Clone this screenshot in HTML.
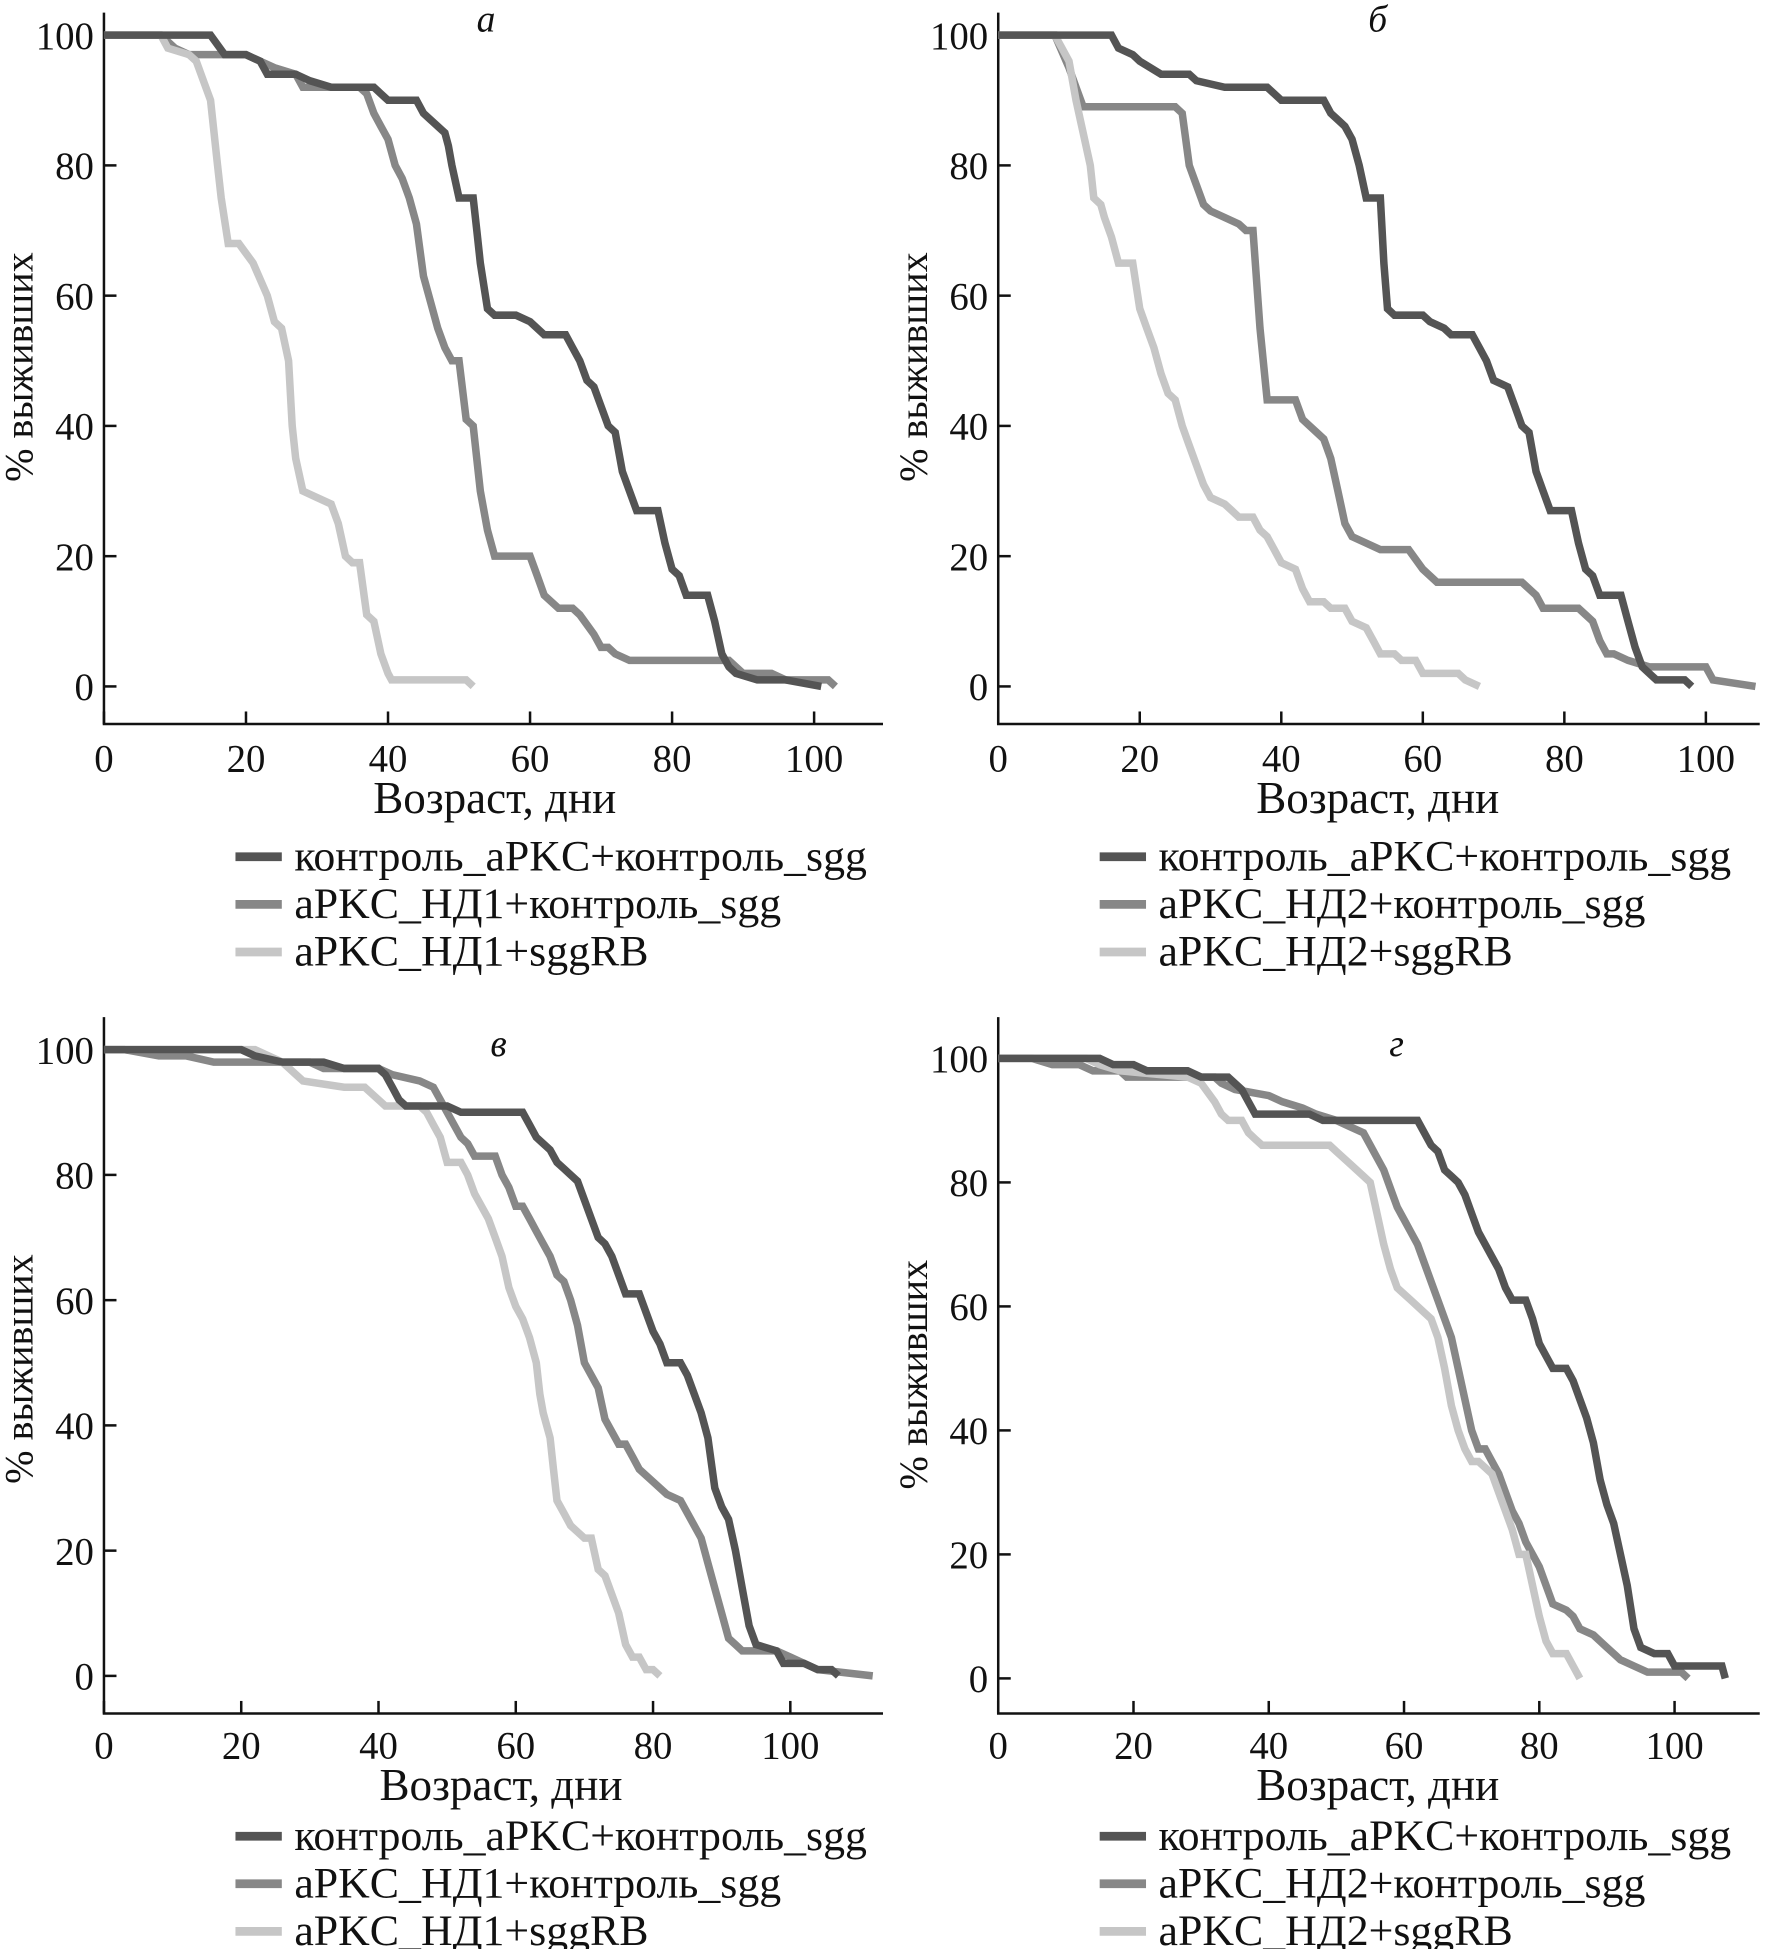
<!DOCTYPE html>
<html><head><meta charset="utf-8"><style>
html,body{margin:0;padding:0;background:#fff}
svg text{font-family:"Liberation Serif",serif;fill:#111}
</style></head><body>
<svg id="s" width="1766" height="1949" viewBox="0 0 1410 1556" xmlns="http://www.w3.org/2000/svg"></svg>
<script>
const D='#545454',M='#878787',L='#c6c6c6';
const P=[
{x0:83,sx:5.67,y100:28,sy:5.2,top:10,bot:578,right:705,xt:[0,20,40,60,80,100],lab:'а',lx:388,ly:25,ttl:395,leg:[188,684],xlY:616,
 c:[[M,[[0,100],[8,100],[10,98],[12,97],[20,97],[22,96],[24,95],[27,94],[28,92],[36,92],[37,91],[38,88],[39,86],[40,84],[41,80],[42,78],[43,75],[44,71],[45,63],[46,59],[47,55],[48,52],[49,50],[50,50],[51,41],[52,40],[53,30],[54,24],[55,20],[60,20],[61,17],[62,14],[63,13],[64,12],[66,12],[67,11],[69,8],[70,6],[71,6],[72,5],[74,4],[88,4],[89,3],[90,2],[94,2],[96,1],[102,1],[103,0]]],
 [L,[[0,100],[8,100],[9,98],[12,97],[13,96],[14,93],[15,90],[16,80],[16.5,75],[17.5,68],[19,68],[21,65],[23,60],[24,56],[25,55],[26,50],[26.5,40],[27,35],[28,30],[30,29],[32,28],[33,25],[34,20],[35,19],[36,19],[37,11],[38,10],[39,5],[40,2],[40.5,1],[51,1],[52,0]]],
 [D,[[0,100],[15,100],[17,97],[20,97],[22,96],[23,94],[27,94],[29,93],[32,92],[38,92],[39,91],[40,90],[44,90],[45,88],[46,87],[47,86],[48,85],[48.5,83],[49,80],[50,75],[52,75],[52.5,70],[53,65],[54,58],[55,57],[58,57],[60,56],[62,54],[65,54],[66,52],[67,50],[68,47],[69,46],[70,43],[71,40],[72,39],[73,33],[75,27],[78,27],[79,22],[80,18],[81,17],[82,14],[85,14],[86,10],[87,5],[88,3],[89,2],[92,1],[96,1],[101,0]]]],
 names:['контроль_aPKC+контроль_sgg','aPKC_НД1+контроль_sgg','aPKC_НД1+sggRB']},
{x0:797,sx:5.65,y100:28,sy:5.2,top:10,bot:578,right:1405,xt:[0,20,40,60,80,100],lab:'б',lx:1100,ly:25,ttl:1100,leg:[878,684],xlY:616,
 c:[[M,[[0,100],[8,100],[10,95],[11,92],[12,89],[25,89],[26,88],[27,80],[28,77],[29,74],[30,73],[32,72],[34,71],[35,70],[36,70],[37,55],[38,44],[42,44],[43,41],[44,40],[45,39],[46,38],[47,35],[48,30],[49,25],[50,23],[52,22],[54,21],[58,21],[60,18],[62,16],[74,16],[76,14],[77,12],[82,12],[83,11],[84,10],[85,7],[86,5],[87,5],[89,4],[92,3],[100,3],[101,1],[107,0]]],
 [L,[[0,100],[8,100],[9,98],[10,96],[11,90],[12,85],[13,80],[13.5,75],[14.5,74],[15,72],[16,69],[17,65],[19,65],[20,58],[21,55],[22,52],[23,48],[24,45],[25,44],[26,40],[27,37],[28,34],[29,31],[30,29],[32,28],[33,27],[34,26],[36,26],[37,24],[38,23],[39,21],[40,19],[42,18],[43,15],[44,13],[46,13],[47,12],[49,12],[50,10],[52,9],[53,7],[54,5],[56,5],[57,4],[59,4],[60,2],[65,2],[66,1],[68,0]]],
 [D,[[0,100],[16,100],[17,98],[19,97],[20,96],[23,94],[27,94],[28,93],[32,92],[38,92],[39,91],[40,90],[46,90],[47,88],[48,87],[49,86],[50,84],[51,80],[52,75],[54,75],[54.5,65],[55,58],[56,57],[60,57],[61,56],[63,55],[64,54],[67,54],[68,52],[69,50],[70,47],[72,46],[73,43],[74,40],[75,39],[76,33],[77,30],[78,27],[81,27],[82,22],[83,18],[84,17],[85,14],[88,14],[89,10],[90,6],[91,3],[92,2],[93,1],[97,1],[98,0]]]],
 names:['контроль_aPKC+контроль_sgg','aPKC_НД2+контроль_sgg','aPKC_НД2+sggRB']},
{x0:83,sx:5.48,y100:838,sy:5.0,top:812,bot:1368,right:705,xt:[0,20,40,60,80,100],lab:'в',lx:398,ly:843,ttl:400,leg:[188,1466],xlY:1404,
 c:[[M,[[0,100],[3,100],[8,99],[12,99],[16,98],[30,98],[32,97],[40,97],[42,96],[46,95],[48,94],[49,92],[50,90],[51,88],[52,86],[53,85],[54,83],[57,83],[58,80],[59,78],[60,75],[61,75],[62,73],[63,71],[64,69],[65,67],[66,64],[67,63],[68,60],[69,56],[70,50],[71,48],[72,46],[73,41],[74,39],[75,37],[76,37],[77,35],[78,33],[80,31],[82,29],[84,28],[85,26],[86,24],[87,22],[88,18],[89,14],[90,10],[91,6],[92,5],[93,4],[98,4],[100,3],[102,2],[104,1],[112,0]]],
 [L,[[0,100],[22,100],[24,99],[26,98],[28,96],[29,95],[35,94],[38,94],[39,93],[40,92],[41,91],[46,91],[47,90],[48,88],[49,86],[50,82],[52,82],[53,80],[54,77],[55,75],[56,73],[57,70],[58,67],[59,62],[60,59],[61,57],[62,54],[63,50],[63.5,45],[64,42],[65,38],[65.5,33],[66,28],[67,26],[68,24],[69,23],[70,22],[71,22],[72,17],[73,16],[74,13],[75,10],[76,5],[77,3],[78,3],[79,1],[80,1],[81,0]]],
 [D,[[0,100],[20,100],[22,99],[26,98],[32,98],[35,97],[40,97],[41,96],[42,94],[43,92],[44,91],[50,91],[52,90],[61,90],[62,88],[63,86],[65,84],[66,82],[67,81],[68,80],[69,79],[70,76],[71,73],[72,70],[73,69],[74,67],[75,64],[76,61],[78,61],[79,58],[80,55],[81,53],[82,50],[84,50],[85,48],[86,45],[87,42],[88,38],[89,30],[90,27],[91,25],[92,20],[93,14],[94,8],[95,5],[98,4],[99,2],[102,2],[104,1],[106,1],[107,0]]]],
 names:['контроль_aPKC+контроль_sgg','aPKC_НД1+контроль_sgg','aPKC_НД1+sggRB']},
{x0:797,sx:5.4,y100:845,sy:4.95,top:812,bot:1368,right:1405,xt:[0,20,40,60,80,100],lab:'г',lx:1115,ly:843,ttl:1100,leg:[878,1466],xlY:1404,
 c:[[M,[[0,100],[5,100],[8,99],[12,99],[14,98],[18,98],[19,97],[32,97],[33,96],[35,95],[40,94],[42,93],[45,92],[47,91],[50,90],[52,89],[54,88],[55,86],[56,84],[57,82],[58,79],[59,76],[60,74],[61,72],[62,70],[63,67],[64,64],[65,61],[66,58],[67,55],[68,50],[69,45],[70,40],[71,37],[72,37],[73,35],[74,33],[75,30],[76,27],[77,25],[78,22],[79,20],[80,18],[81,15],[82,12],[84,11],[85,10],[86,8],[88,7],[89,6],[90,5],[91,4],[92,3],[94,2],[96,1],[101,1],[102,0]]],
 [L,[[0,100],[13,100],[15,99],[18,98],[28,97],[30,96],[32,93],[33,91],[34,90],[36,90],[37,88],[38,87],[39,86],[49,86],[50,85],[51,84],[52,83],[54,81],[55,80],[56,75],[57,70],[58,66],[59,63],[61,61],[62,60],[63,59],[64,58],[65,55],[66,50],[66.5,47],[67,44],[68,40],[69,37],[70,35],[71,35],[72,34],[73,33],[74,30],[75,27],[76,24],[77,20],[78,20],[79,15],[80,10],[81,6],[82,4],[84,4],[85,2],[86,0]]],
 [D,[[0,100],[15,100],[17,99],[20,99],[22,98],[28,98],[30,97],[34,97],[36,95],[37,93],[38,91],[46,91],[48,90],[62,90],[63,88],[64,86],[65,85],[66,82],[67,81],[68,80],[69,78],[70,75],[71,72],[72,70],[73,68],[74,66],[75,63],[76,61],[78,61],[79,58],[80,54],[81,52],[82,50],[84,50],[85,48],[86,45],[87,42],[88,38],[89,32],[90,28],[91,25],[92,20],[93,15],[94,8],[95,5],[97,4],[99,4],[100,2],[107,2],[107.5,0]]]],
 names:['контроль_aPKC+контроль_sgg','aPKC_НД2+контроль_sgg','aPKC_НД2+sggRB']}
];
let h='';
for(const p of P){
  const X=v=>p.x0+v*p.sx, Y=v=>p.y100+(100-v)*p.sy;
  h+=`<path d="M${p.x0} ${p.top}V${p.bot}H${p.right}" fill="none" stroke="#111" stroke-width="2"/>`;
  for(let v=0;v<=100;v+=20){h+=`<line x1="${p.x0}" y1="${Y(v)}" x2="${p.x0+10}" y2="${Y(v)}" stroke="#111" stroke-width="2"/>`;
    h+=`<text x="${p.x0-8}" y="${Y(v)+11}" font-size="31" text-anchor="end">${v}</text>`;}
  for(const v of p.xt){h+=`<line x1="${X(v)}" y1="${p.bot}" x2="${X(v)}" y2="${p.bot-10}" stroke="#111" stroke-width="2"/>`;
    h+=`<text x="${X(v)}" y="${p.xlY}" font-size="31" text-anchor="middle">${v}</text>`;}
  h+=`<text x="${p.ttl}" y="${p.xlY+33}" font-size="36" text-anchor="middle">Возраст, дни</text>`;
  const cy=(p.y100+Y(0))/2+5;
  h+=`<text transform="translate(${p.x0-57},${cy}) rotate(-90)" font-size="32" text-anchor="middle">% выживших</text>`;
  h+=`<text x="${p.lx}" y="${p.ly}" font-size="30" font-style="italic" text-anchor="middle">${p.lab}</text>`;
  for(const [col,pts] of p.c){
    h+=`<polyline points="${pts.map(q=>X(q[0]).toFixed(1)+','+Y(q[1]).toFixed(1)).join(' ')}" fill="none" stroke="${col}" stroke-width="6" stroke-linejoin="miter"/>`;
  }
  const cols=[D,M,L];
  for(let i=0;i<3;i++){const yy=p.leg[1]+i*38;
    h+=`<line x1="${p.leg[0]}" y1="${yy}" x2="${p.leg[0]+37}" y2="${yy}" stroke="${cols[i]}" stroke-width="7"/>`;
    h+=`<text x="${p.leg[0]+47}" y="${yy+11}" font-size="35">${p.names[i]}</text>`;}
}
document.getElementById('s').innerHTML=h;
</script>
</body></html>
